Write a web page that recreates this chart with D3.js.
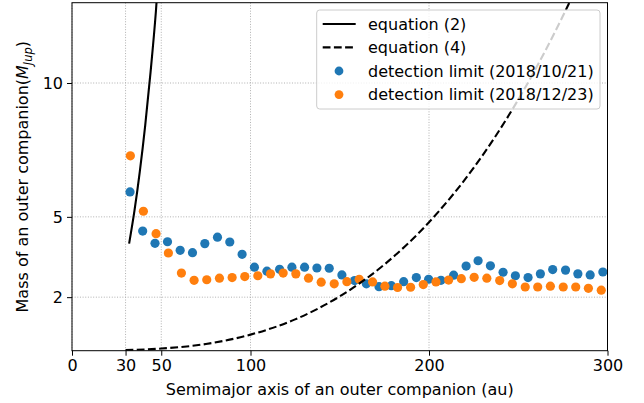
<!DOCTYPE html>
<html><head><meta charset="utf-8">
<script src="https://cdn.jsdelivr.net/npm/d3@7"></script>
<style>body{margin:0;background:#fff}svg{display:block;font-family:"DejaVu Sans",sans-serif}</style>
</head><body><svg id="c" width="644" height="403"></svg>
<script>
const xTicks = [0, 30, 50, 100, 200, 300];
const yTicks = [2, 5, 10];
const blueA = [32.5,39.6,46.5,53.5,60.6,67.5,74.4,81.5,88.4,95.3,102.2,109.2,116.3,123.2,130.3,137.2,144.1,151.2,158.3,164.9,172.0,178.9,185.8,192.9,199.8,206.7,213.8,220.8,227.5,234.4,241.5,248.4,255.5,262.4,269.3,276.5,283.4,290.3,297.4];
const blueM = [5.93,4.47,4.01,4.07,3.75,3.66,4.00,4.24,4.06,3.60,3.12,2.97,3.04,3.12,3.12,3.09,3.08,2.83,2.62,2.50,2.39,2.43,2.58,2.73,2.67,2.63,2.82,3.16,3.36,3.17,2.93,2.80,2.73,2.87,3.03,3.01,2.87,2.83,2.94];
const orangeA = [32.7,40.0,47.1,54.0,61.3,68.4,75.5,82.6,89.7,96.8,104.1,111.2,118.3,125.4,132.5,139.6,146.9,154.0,160.9,168.4,175.3,182.4,189.7,196.8,203.9,211.0,218.1,225.3,232.4,239.6,246.7,253.9,260.9,268.0,275.2,282.2,289.3,296.5];
const orangeM = [7.28,5.21,4.37,3.65,2.90,2.63,2.65,2.71,2.73,2.77,2.80,2.87,2.90,2.87,2.71,2.56,2.50,2.58,2.67,2.57,2.41,2.36,2.37,2.47,2.57,2.64,2.69,2.74,2.71,2.62,2.50,2.38,2.38,2.41,2.38,2.38,2.33,2.26];
const eq2A = [32,35,38,41,44,47,50];
const eq2M = [4.0,5.23,6.70,8.41,10.4,12.67,15.6];
const eq4A = [30,50,75,100,125,150,175,200,225,250,275,300];
const eq4M = [0.02,0.08,0.25,0.6,1.17,2.03,3.22,4.8,6.83,9.38,12.5,16.2];
const legendLabels = ["equation (2)", "equation (4)", "detection limit (2018/10/21)", "detection limit (2018/12/23)"];
const blueC = "#1f77b4", orangeC = "#ff7f0e";

const svg = d3.select("#c");
const L = 72, R = 607.5, T = 2.7, B = 350.7;
const x = d3.scaleLinear().domain([0, 300]).range([L, R]);
const y = d3.scaleLinear().domain([0, 13]).range([B, T]);
const FS = "16px";

svg.append("defs").append("clipPath").attr("id", "clip")
  .append("rect").attr("x", L).attr("y", T).attr("width", R - L).attr("height", B - T);

// grid
const g = svg.append("g");
g.selectAll(".gx").data(xTicks).enter().append("line")
  .attr("x1", d => x(d)).attr("x2", d => x(d)).attr("y1", T).attr("y2", B)
  .attr("stroke", "#b0b0b0").attr("stroke-width", 1).attr("stroke-dasharray", "1,1.65");
g.selectAll(".gy").data(yTicks).enter().append("line")
  .attr("y1", d => y(d)).attr("y2", d => y(d)).attr("x1", L).attr("x2", R)
  .attr("stroke", "#b0b0b0").attr("stroke-width", 1).attr("stroke-dasharray", "1,1.65");

const plot = svg.append("g").attr("clip-path", "url(#clip)");
// scatter
plot.selectAll(".b").data(blueA).enter().append("circle")
  .attr("cx", d => x(d)).attr("cy", (d, i) => y(blueM[i])).attr("r", 4.6).attr("fill", blueC);
plot.selectAll(".o").data(orangeA).enter().append("circle")
  .attr("cx", d => x(d)).attr("cy", (d, i) => y(orangeM[i])).attr("r", 4.6).attr("fill", orangeC);
// lines
const line = d3.line().x(d => x(d[0])).y(d => y(d[1])).curve(d3.curveMonotoneX);
plot.append("path").datum(eq2A.map((a, i) => [a, eq2M[i]])).attr("d", line)
  .attr("fill", "none").attr("stroke", "#000").attr("stroke-width", 2.1);
plot.append("path").datum(eq4A.map((a, i) => [a, eq4M[i]])).attr("d", line)
  .attr("fill", "none").attr("stroke", "#000").attr("stroke-width", 2.1).attr("stroke-dasharray", "7.8,3.4");

// axes
const xa = svg.append("g").attr("transform", `translate(0,${B})`)
  .call(d3.axisBottom(x).tickValues(xTicks).tickSize(5).tickPadding(4).tickFormat(d3.format("d")));
const ya = svg.append("g").attr("transform", `translate(${L},0)`)
  .call(d3.axisLeft(y).tickValues(yTicks).tickSize(5).tickPadding(4).tickFormat(d3.format("d")));
[xa, ya].forEach(a => {
  a.select(".domain").remove();
  a.selectAll("text").attr("font-size", FS).attr("fill", "#000").attr("font-family", "DejaVu Sans");
  a.selectAll("line").attr("stroke", "#000").attr("stroke-width", 1);
});
ya.selectAll("text").attr("dy", "0.35em");
svg.append("rect").attr("x", L).attr("y", T).attr("width", R - L).attr("height", B - T)
  .attr("fill", "none").attr("stroke", "#000").attr("stroke-width", 1);

// axis labels
svg.append("text").attr("x", (L + R) / 2).attr("y", 395).attr("text-anchor", "middle")
  .attr("font-size", FS).text("Semimajor axis of an outer companion (au)");
const yl = svg.append("text").attr("transform", `translate(28,${(T + B) / 2}) rotate(-90)`)
  .attr("text-anchor", "middle").attr("font-size", FS);
yl.append("tspan").text("Mass of an outer companion(");
yl.append("tspan").attr("font-style", "italic").text("M");
yl.append("tspan").attr("font-style", "italic").attr("font-size", "11.5px").attr("dy", 3.5).text("Jup");
yl.append("tspan").attr("dy", -3.5).text(")");

// legend
const lg = svg.append("g");
lg.append("rect").attr("x", 316.7).attr("y", 10).attr("width", 283.3).attr("height", 99)
  .attr("rx", 3).attr("fill", "#fff").attr("fill-opacity", 0.8).attr("stroke", "#cccccc").attr("stroke-width", 1);
const rows = [24, 47.4, 71, 94.6];
legendLabels.forEach((t, i) => {
  const yy = rows[i];
  if (i === 0) lg.append("line").attr("x1", 322.7).attr("x2", 355.7).attr("y1", yy).attr("y2", yy).attr("stroke", "#000").attr("stroke-width", 2.1);
  if (i === 1) lg.append("line").attr("x1", 322.7).attr("x2", 355.7).attr("y1", yy).attr("y2", yy).attr("stroke", "#000").attr("stroke-width", 2.1).attr("stroke-dasharray", "7.8,3.4");
  if (i === 2) lg.append("circle").attr("cx", 339).attr("cy", yy).attr("r", 4.4).attr("fill", blueC);
  if (i === 3) lg.append("circle").attr("cx", 339).attr("cy", yy).attr("r", 4.4).attr("fill", orangeC);
  lg.append("text").attr("x", 368).attr("y", yy + 5.6).attr("font-size", FS).text(t);
});
</script></body></html>
